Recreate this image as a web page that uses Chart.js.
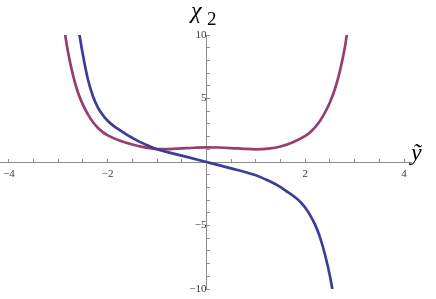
<!DOCTYPE html>
<html>
<head>
<meta charset="utf-8">
<script src="https://cdn.jsdelivr.net/npm/chart.js@4"></script>
<style>
  body { margin: 0; background: #fff; }
  canvas { display: block; }
</style>
</head>
<body>
<canvas id="plot" width="436" height="299"></canvas>
<script>
// Blue curve (odd-ish, falls through the origin)
const blueX = [-2.62, -2.57, -2.5, -2.4, -2.3, -2.2, -2.1, -2.0, -1.9, -1.8, -1.6, -1.5, -1.4, -1.2, -1.0, -0.5, 0, 0.5, 1.0, 1.2, 1.4, 1.5, 1.6, 1.8, 1.9, 2.0, 2.1, 2.2, 2.3, 2.4, 2.5, 2.54, 2.6];
const blueY = [11.3, 10, 8.4, 6.5, 5.2, 4.3, 3.7, 3.25, 2.9, 2.62, 2.12, 1.9, 1.68, 1.32, 1.0, 0.5, 0, -0.5, -1.05, -1.38, -1.75, -1.98, -2.25, -2.8, -3.15, -3.6, -4.2, -4.95, -5.95, -7.3, -9.0, -9.85, -11.3];

// Purple curve (even-ish, flat bottom around 1)
const purpleX = [-2.92, -2.86, -2.8, -2.7, -2.6, -2.5, -2.4, -2.3, -2.2, -2.1, -2.0, -1.75, -1.5, -1.25, -1.0, -0.75, -0.5, -0.25, 0, 0.25, 0.5, 0.75, 1.0, 1.25, 1.5, 1.75, 2.0, 2.1, 2.2, 2.3, 2.4, 2.5, 2.6, 2.7, 2.8, 2.84, 2.9];
const purpleY = [11.6, 10, 8.6, 6.8, 5.45, 4.5, 3.75, 3.15, 2.7, 2.35, 2.1, 1.68, 1.38, 1.15, 1.02, 1.02, 1.07, 1.12, 1.15, 1.14, 1.1, 1.04, 1.0, 1.05, 1.22, 1.55, 2.05, 2.35, 2.75, 3.25, 3.9, 4.7, 5.75, 7.15, 9.0, 10, 11.6];

// Ticks and labels
const xTicks = [-4, -3.5, -3, -2.5, -2, -1.5, -1, -0.5, 0, 0.5, 1, 1.5, 2, 2.5, 3, 3.5, 4];
const xLabelValues = [-4, -2, 2, 4];
const xLabelText = ["−4", "−2", "2", "4"];
const yTicks = [-10, -9, -8, -7, -6, -5, -4, -3, -2, -1, 0, 1, 2, 3, 4, 5, 6, 7, 8, 9, 10];
const yLabelValues = [-10, -5, 5, 10];
const yLabelText = ["−10", "−5", "5", "10"];

const blueColor = "#3d3d99";
const purpleColor = "#993d71";
const axisColor = "#8c8c8c";
const labelColor = "#3a3a3a";
const serif = "'Liberation Serif', 'DejaVu Serif', serif";
const tickFont = { family: serif, size: 11 };

function toPoints(xs, ys) {
  return xs.map((x, i) => ({ x: x, y: ys[i] }));
}

function labelFor(values, texts) {
  return function (v) {
    const i = values.indexOf(v);
    return i >= 0 ? texts[i] : "";
  };
}

// center axes ask for extra room for their labels; the layout padding covers it
function noScalePadding(s) {
  s.paddingLeft = 0;
  s.paddingRight = 0;
  s.paddingTop = 0;
  s.paddingBottom = 0;
}

// axis names drawn next to the axes
const axisNames = {
  id: "axisNames",
  afterDraw(chart) {
    const c = chart.ctx;
    c.save();
    c.fillStyle = "#000";
    c.textBaseline = "alphabetic";
    c.font = "italic 24px " + serif;
    c.fillText("χ", 191, 18);
    c.font = "19px " + serif;
    c.fillText("2", 207, 25);
    c.font = "italic 24px " + serif;
    c.fillText("ỹ", 411, 160);
    c.restore();
  }
};

const ctx = document.getElementById("plot");

new Chart(ctx, {
  type: "scatter",
  data: {
    datasets: [
      {
        label: "blue",
        data: toPoints(blueX, blueY),
        showLine: true,
        borderColor: blueColor,
        backgroundColor: blueColor,
        borderWidth: 2.7,
        pointRadius: 0,
        cubicInterpolationMode: "monotone",
        clip: 0,
      },
      {
        label: "purple",
        data: toPoints(purpleX, purpleY),
        showLine: true,
        borderColor: purpleColor,
        backgroundColor: purpleColor,
        borderWidth: 2.7,
        pointRadius: 0,
        cubicInterpolationMode: "monotone",
        clip: 0,
      },
    ],
  },
  options: {
    responsive: false,
    animation: false,
    layout: { padding: { left: 0, right: 25, top: 35, bottom: 10 } },
    elements: { line: { capBezierPoints: false } },
    plugins: { legend: { display: false }, tooltip: { enabled: false } },
    scales: {
      x: {
        type: "linear",
        min: -4.18,
        max: 4.14,
        position: { y: 0 },
        afterBuildTicks: (s) => { s.ticks = xTicks.map((v) => ({ value: v })); },
        afterFit: noScalePadding,
        ticks: {
          callback: labelFor(xLabelValues, xLabelText),
          font: tickFont,
          color: labelColor,
          padding: 10,
          maxRotation: 0,
          autoSkip: false,
        },
        grid: { drawOnChartArea: false, tickLength: -4, tickColor: axisColor, tickWidth: 1 },
        border: { color: axisColor, width: 1 },
      },
      y: {
        type: "linear",
        min: -10,
        max: 10,
        position: { x: 0 },
        afterBuildTicks: (s) => { s.ticks = yTicks.map((v) => ({ value: v })); },
        afterFit: noScalePadding,
        ticks: {
          callback: labelFor(yLabelValues, yLabelText),
          font: tickFont,
          color: labelColor,
          padding: 10,
          autoSkip: false,
        },
        grid: { drawOnChartArea: false, tickLength: -4, tickColor: axisColor, tickWidth: 1 },
        border: { color: axisColor, width: 1 },
      },
    },
  },
  plugins: [axisNames],
});
</script>
</body>
</html>
